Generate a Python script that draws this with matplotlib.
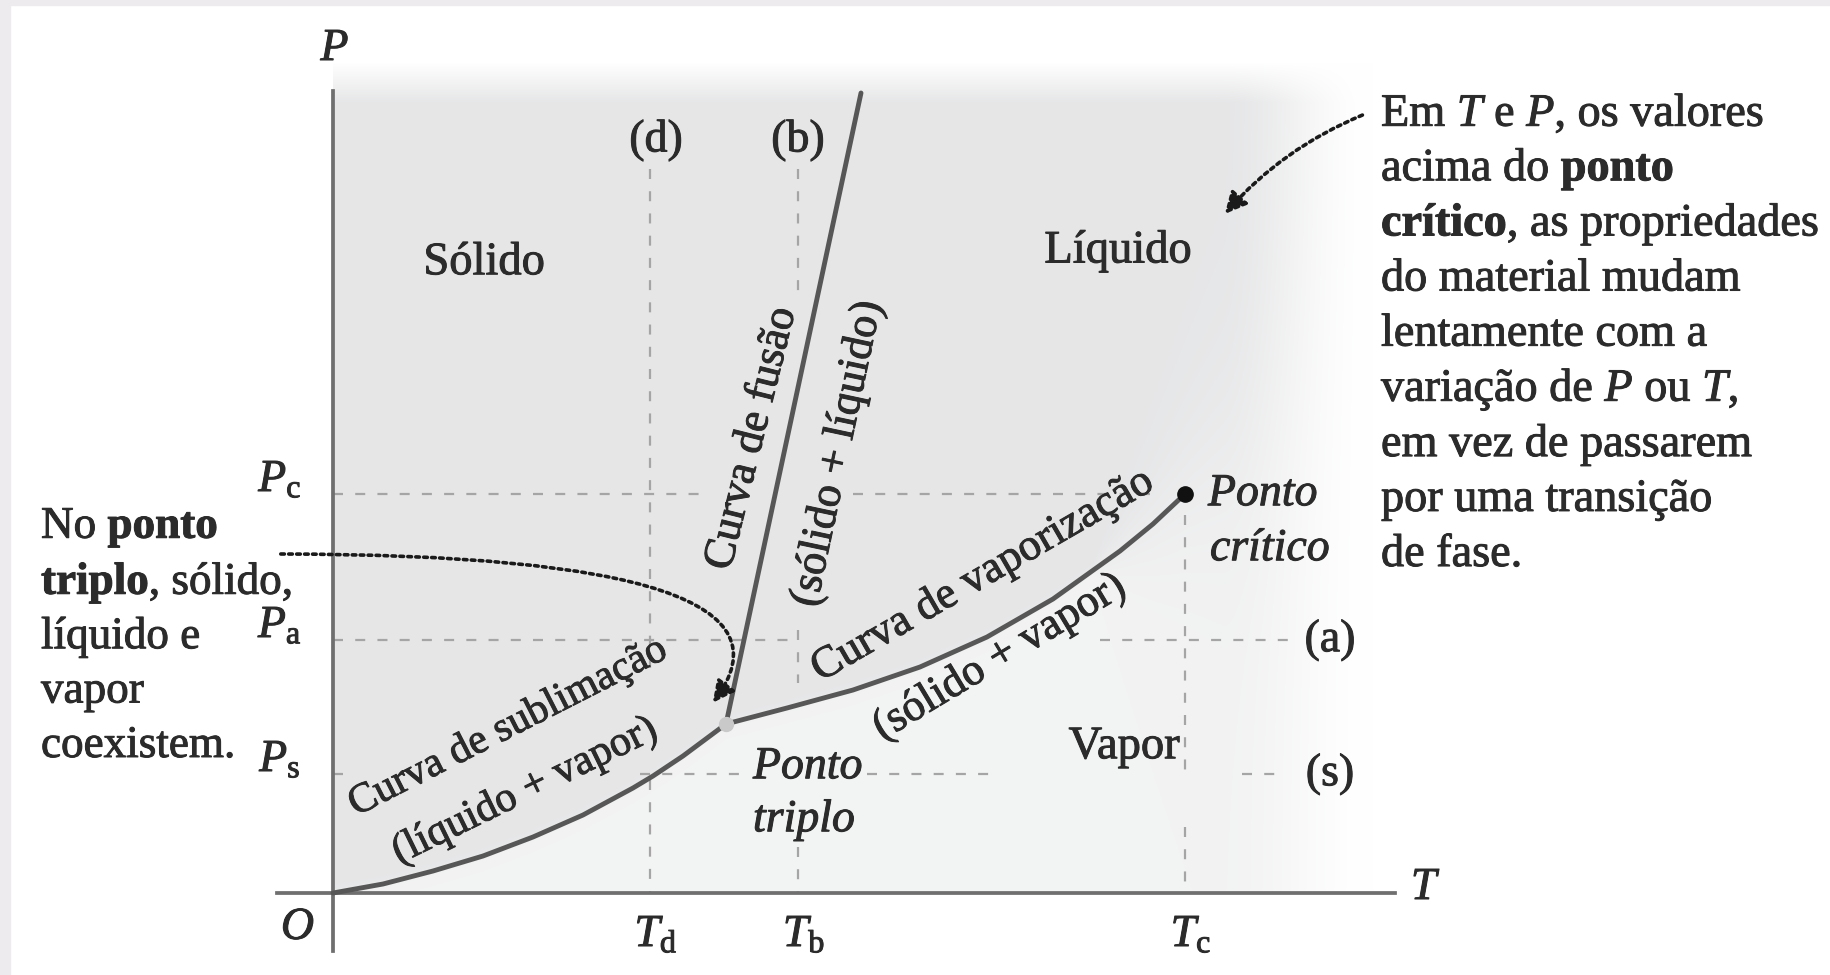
import numpy as np
import matplotlib.pyplot as plt
from matplotlib.patches import Rectangle
import matplotlib.patheffects as pe

plt.rcParams['font.family'] = 'Liberation Serif'
plt.rcParams['mathtext.fontset'] = 'custom'
plt.rcParams['mathtext.rm'] = 'Liberation Serif'
plt.rcParams['mathtext.it'] = 'Liberation Serif:italic'
plt.rcParams['mathtext.bf'] = 'Liberation Serif:bold'

# diagram units: T to the right, P upward, origin at O
sub_T = [0, 50, 100, 150, 200, 250, 300, 320, 350, 393]
sub_P = [0, 9, 22, 37, 56, 78, 105, 117, 137, 169]
vap_T = [393, 454, 520, 587, 654, 720, 787, 820, 852]
vap_P = [169, 185, 203, 226, 256, 294, 342, 369, 399]
fus_T = [393, 528]
fus_P = [169, 800]
triple = (393, 169)
critical = (852, 399)

T_d, T_b, T_c = 317, 465, 852
P_c, P_a, P_s = 399, 253, 119

# visible pieces of the dashed guide lines
h_dashes = [(P_c, 0, 367), (P_c, 520, 817),
            (P_a, 0, 464), (P_a, 767, 962),
            (P_s, 0, 14), (P_s, 307, 417), (P_s, 534, 660), (P_s, 909, 944)]
v_dashes = [(T_d, 724, 218), (T_d, 113, 0),
            (T_b, 724, 593), (T_b, 263, 210), (T_b, 46, 0),
            (T_c, 378, 118), (T_c, 66, 0)]

right_lines = [r"Em $T$ e $P$, os valores",
               r"acima do $\mathbf{ponto}$",
               r"$\mathbf{crítico}$, as propriedades",
               "do material mudam",
               "lentamente com a",
               r"variação de $P$ ou $T$,",
               "em vez de passarem",
               "por uma transição",
               "de fase."]
left_lines = [r"No $\mathbf{ponto}$",
              r"$\mathbf{triplo}$, sólido,",
              "líquido e",
              "vapor",
              "coexistem."]

fig = plt.figure(figsize=(18.3, 9.75), dpi=100)
ax = fig.add_axes([0, 0, 1, 1])
ax.set_xlim(-333, 1497)
ax.set_ylim(-82, 893)
ax.axis('off')

# gray background of the phase regions
Tg = np.arange(0, 1100)
Pg = np.arange(0, 830)
TT, PP = np.meshgrid(Tg, Pg)
bT = sub_T + vap_T[1:] + [1000, 1100]
bP = sub_P + vap_P[1:] + [520, 600]
b = np.interp(Tg, bT, bP)
w = np.where(Tg > 760, 2 + (Tg - 760) * 0.5, 2)
above = 1 / (1 + np.exp(-(PP - b) / w))
dark, light = 0.098, 0.048
shade = light + (dark - light) * above
fx = np.clip((1040 - TT) / 150, 0, 1)
fx = fx * fx * (3 - 2 * fx)
fy = np.clip((830 - PP) / 40, 0, 1)
amt = shade * fx * fy
img = np.dstack([1 - amt * 1.0, 1 - amt * 0.98, 1 - amt * 0.93])
ax.imshow(img, extent=[0, 1100, 0, 830], origin='lower', aspect='auto', zorder=0)

guide = dict(color='#a5a5a5', lw=1.6, dashes=(4.5, 5.5), zorder=1)
for p, t0, t1 in h_dashes:
    ax.plot([t0, t1], [p, p], **guide)
for t, p0, p1 in v_dashes:
    ax.plot([t, t], [p0, p1], **guide)

ax.plot([0, 0], [-58, 802], color='#6f6f6f', lw=2.7, zorder=2)
ax.plot([-56, 1062], [0, 0], color='#6f6f6f', lw=2.7, zorder=2)

curve = dict(color='#575757', lw=3.5, solid_capstyle='round', solid_joinstyle='round', zorder=3)
ax.plot(sub_T, sub_P, **curve)
ax.plot(vap_T, vap_P, **curve)
ax.plot(fus_T, fus_P, **curve)
ax.plot(*triple, 'o', color='#c9c9c9', ms=10, zorder=4)
ax.plot(*critical, 'o', color='#111111', ms=11, zorder=4)

tc = '#2b2b2b'
thick = [pe.withStroke(linewidth=0.7, foreground=tc)]
base = dict(color=tc, path_effects=thick)
fs = 33
c = dict(ha='center', va='center', **base)
ax.text(2, 844, r"$P$", fontsize=fs, **c)
ax.text(1093, 5, r"$T$", fontsize=fs, **c)
ax.text(-35, -35, r"$O$", fontsize=fs, **c)
for lab, p in [('c', P_c), ('a', P_a), ('s', P_s)]:
    ax.text(-53, p + 14, r"$P_{\mathrm{%s}}$" % lab, fontsize=fs, **c)
for lab, t in [('d', T_d), ('b', T_b), ('c', T_c)]:
    ax.text(t + 6, -42, r"$T_{\mathrm{%s}}$" % lab, fontsize=fs, **c)
ax.text(T_d + 6, 753, "(d)", fontsize=fs, **c)
ax.text(T_b, 753, "(b)", fontsize=fs, **c)
ax.text(997, P_a, "(a)", fontsize=fs, **c)
ax.text(997, P_s, "(s)", fontsize=fs, **c)

ax.text(151, 630, "Sólido", fontsize=33.5, **c)
ax.text(785, 642, "Líquido", fontsize=33.5, **c)
ax.text(791, 146, "Vapor", fontsize=33.5, **c)
l = dict(fontsize=fs, style='italic', ha='left', va='center', **base)
ax.text(875, 399, "Ponto", **l)
ax.text(877, 344, "crítico", **l)
ax.text(420, 126, "Ponto", **l)
ax.text(420, 73, "triplo", **l)

lab = dict(ha='center', va='center', rotation_mode='anchor', **base)
ax.text(175, 166, "Curva de sublimação", fontsize=30, rotation=27, **lab)
ax.text(192, 102, "(líquido + vapor)", fontsize=30.5, rotation=26, **lab)
ax.text(419, 455, "Curva de fusão", fontsize=32, rotation=76, **lab)
ax.text(505, 440, "(sólido + líquido)", fontsize=32, rotation=78, **lab)
ax.text(650, 318, "Curva de vaporização", fontsize=32, rotation=30, **lab)
ax.text(667, 236, "(sólido + vapor)", fontsize=32, rotation=31, **lab)

for i, s in enumerate(right_lines):
    ax.text(1048, 779 - 55.1 * i, s, fontsize=33.3, ha='left', va='center', **base)
for i, s in enumerate(left_lines):
    ax.text(-292, 365 - 54.5 * i, s, fontsize=32.5, ha='left', va='center', **base)

arrow = dict(arrowstyle='-|>', color='#1a1a1a', lw=2.6, linestyle=(0, (1, 1.2)),
             mutation_scale=32)
ax.annotate("", xy=(378, 188), xytext=(-55, 339),
            arrowprops=dict(connectionstyle="angle3,angleA=0,angleB=52", **arrow))
ax.annotate("", xy=(890, 677), xytext=(1032, 779),
            arrowprops=dict(connectionstyle="arc3,rad=0.12", **arrow))

fig.patches.append(Rectangle((0, 1 - 5 / 975), 1, 5 / 975, transform=fig.transFigure,
                             color='#eeebee', zorder=-1))
fig.patches.append(Rectangle((0, 0), 10 / 1830, 1, transform=fig.transFigure,
                             color='#eeebee', zorder=-1))

fig.savefig('out.png', dpi=100)
